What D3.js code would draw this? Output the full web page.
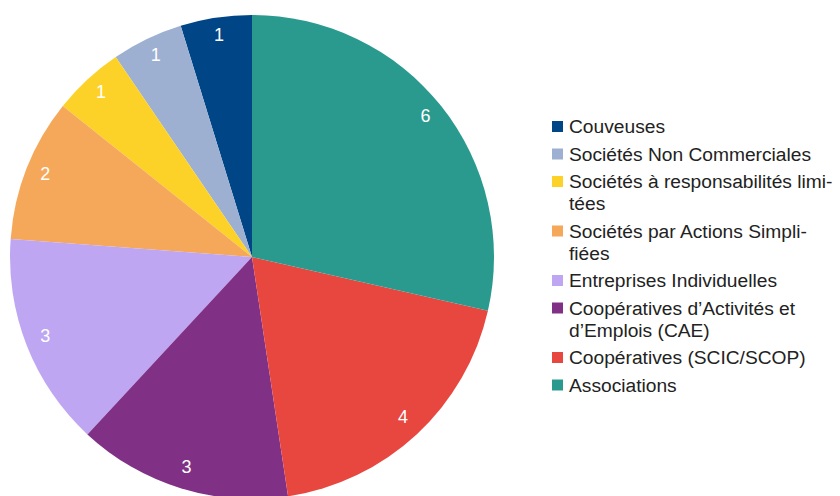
<!DOCTYPE html>
<html>
<head>
<meta charset="utf-8">
<script src="https://cdn.jsdelivr.net/npm/d3@7"></script>
<style>
html, body { margin: 0; padding: 0; background: #ffffff; }
svg { display: block; }
</style>
</head>
<body>
<svg id="chart" width="840" height="496"></svg>
<script>
const categories = [
  "Couveuses",
  "Sociétés Non Commerciales",
  "Sociétés à responsabilités limitées",
  "Sociétés par Actions Simplifiées",
  "Entreprises Individuelles",
  "Coopératives d’Activités et d’Emplois (CAE)",
  "Coopératives (SCIC/SCOP)",
  "Associations"
];
const legendLines = [
  ["Couveuses"],
  ["Sociétés Non Commerciales"],
  ["Sociétés à responsabilités limi-", "tées"],
  ["Sociétés par Actions Simpli-", "fiées"],
  ["Entreprises Individuelles"],
  ["Coopératives d’Activités et", "d’Emplois (CAE)"],
  ["Coopératives (SCIC/SCOP)"],
  ["Associations"]
];
const values = [1, 1, 1, 2, 3, 3, 4, 6];
const colors = ["#004586", "#9db0d2", "#fdd228", "#f6a85a", "#bfa6f2", "#813185", "#e8473f", "#2a9a8f"];

const svg = d3.select("#chart");
const cx = 252, cy = 257, R = 242, labelR = 222;

const data = categories.map((c, i) => ({ name: c, value: values[i], color: colors[i], lines: legendLines[i] }));

const pie = d3.pie().sort(null).value(d => d.value).startAngle(0).endAngle(-2 * Math.PI);
const arcs = pie(data);
const arc = d3.arc().innerRadius(0).outerRadius(R);
const labelArc = d3.arc().innerRadius(labelR).outerRadius(labelR);

const g = svg.append("g").attr("transform", `translate(${cx},${cy})`);
g.selectAll("path.slice").data(arcs).enter().append("path")
  .attr("class", "slice")
  .attr("d", arc)
  .attr("fill", d => d.data.color);

g.selectAll("text.val").data(arcs).enter().append("text")
  .attr("class", "val")
  .attr("transform", d => `translate(${labelArc.centroid(d)})`)
  .attr("text-anchor", "middle")
  .attr("dy", "0.2em")
  .attr("fill", "#ffffff")
  .attr("font-family", "'Liberation Sans', Arial, sans-serif")
  .attr("font-size", 18)
  .text(d => d.data.value);

// Legend
const legend = svg.append("g").attr("class", "legend");
const lx = 552, textX = 569, lineH = 22, itemGap = 27.5;
let y = 133;
data.forEach((d, i) => {
  legend.append("rect")
    .attr("x", lx).attr("y", y - 12)
    .attr("width", 11).attr("height", 11)
    .attr("fill", d.color);
  const t = legend.append("text")
    .attr("x", textX).attr("y", y)
    .attr("fill", "#222222")
    .attr("font-family", "'Liberation Sans', Arial, sans-serif")
    .attr("font-size", 19.2);
  d.lines.forEach((ln, j) => {
    t.append("tspan").attr("x", textX).attr("y", y + j * lineH).text(ln);
  });
  y += (d.lines.length - 1) * lineH + itemGap;
});
</script>
</body>
</html>
